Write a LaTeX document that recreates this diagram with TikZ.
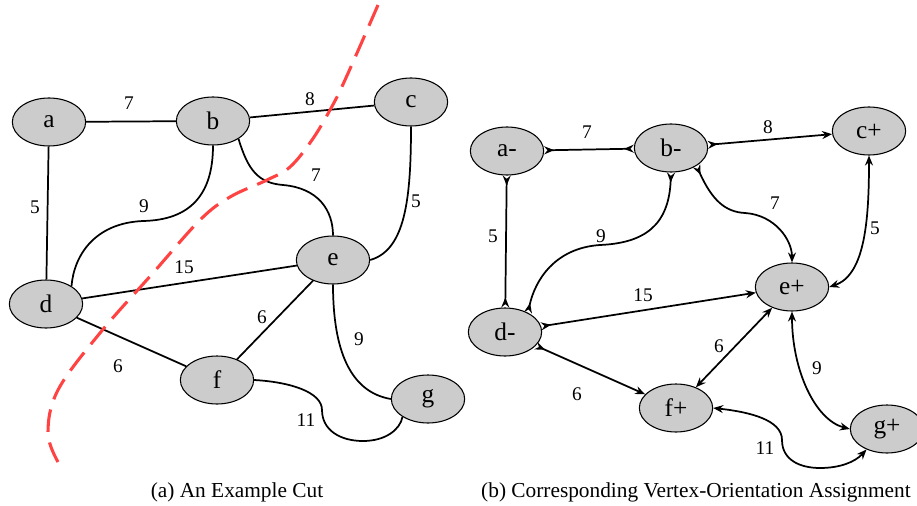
\documentclass[tikz,border=0pt]{standalone}
\usepackage{fontspec}
\setmainfont{Liberation Serif}
\usetikzlibrary{arrows.meta,shapes.geometric}
\definecolor{cutred}{RGB}{255,66,66}
\definecolor{vfill}{RGB}{204,204,204}

\begin{document}
\begin{tikzpicture}[
    x=0.75pt,y=-0.75pt,
    vertex/.style={ellipse,draw=black,fill=vfill,line width=0.8pt,
        minimum width=55pt,minimum height=36pt,inner sep=0pt,
        font=\fontsize{19}{22}\selectfont},
    link/.style={line width=1.3pt},
    weight/.style={font=\fontsize{14.5}{17}\selectfont,inner sep=1pt},
    caption/.style={font=\fontsize{16}{19}\selectfont},
    cutline/.style={cutred,line width=2.3pt,dash pattern=on 17pt off 8pt},
    >={Stealth[length=7.5pt,width=6pt,inset=2.5pt]},
    negneg/.style={link,>-<},
    negpos/.style={link,>->},
    pospos/.style={link,<->}
]
    \useasboundingbox (0,0) rectangle (917,506);

    % (a) the cut
    \foreach \name/\x/\y in {a/49/122,b/213/121,c/411/102,d/46/304,
        e/333/260,f/217/380,g/428/399} {
        \node[vertex] (\name) at (\x,\y) {\name};
    }
    \foreach \u/\v in {a/b,b/c,a/d,d/e,d/f,e/f}
        \draw[link] (\u) -- (\v);
    \draw[link] (b.south) .. controls (213,195) and (190,220) .. (143,221)
        .. controls (95,223) and (74,255) .. (d.35);
    \draw[link] (b.-35) .. controls (248,170) and (258,183) .. (283,185)
        .. controls (318,188) and (333,210) .. (e.north);
    \draw[link] (c.south) .. controls (411,200) and (405,250) .. (e.east);
    \draw[link] (e.south) .. controls (333,350) and (350,392) .. (g.west);
    \draw[link] (f.east) .. controls (290,382) and (322,392) .. (322,410)
        .. controls (322,430) and (340,441) .. (363,441)
        .. controls (385,441) and (400,430) .. (g.-145);
    \foreach \name/\x/\y/\w in {wab/129/103/7,wbc/310/99/8,wad/35/207/5,
        wbd/144/206/9,wbe/316/175/7,wce/416/201/5,wde/184/267/15,
        wdf/118/366/6,wef/262/317/6,weg/359/339/9,wfg/306/420/11}
        \node[weight] (\name) at (\x,\y) {\w};
    \draw[cutline] plot[smooth,tension=0.6] coordinates {(378,5) (345,80)
        (330,110) (312,140) (290,167) (267,180) (230,197) (200,220)
        (153,273) (100,333) (58,390) (48,433) (58,462)};
    \node[caption] (capa) at (237,492) {(a) An Example Cut};

    % (b) the orientation
    \foreach \name/\x/\y/\txt in {am/507/151/a-,bm/671/148/b-,cp/869/131/c+,
        dm/505/332/d-,ep/792/287/e+,fp/676/408/f+,gp/887/429/g+} {
        \node[vertex] (\name) at (\x,\y) {\txt};
    }
    \draw[negneg] (am) -- (bm);
    \draw[negneg] (am) -- (dm);
    \draw[negpos] (bm) -- (cp);
    \draw[negpos] (dm) -- (ep);
    \draw[negpos] (dm) -- (fp);
    \draw[pospos] (ep) -- (fp);
    \draw[negneg] (bm.south) .. controls (669,225) and (645,243) .. (600,245)
        .. controls (555,248) and (535,280) .. (dm.40);
    \draw[negpos] (bm.-35) .. controls (712,200) and (725,212) .. (745,213)
        .. controls (775,215) and (792,240) .. (ep.north);
    \draw[pospos] (cp.south) .. controls (869,220) and (865,275) .. (ep.east);
    \draw[pospos] (ep.south) .. controls (792,370) and (815,420) .. (gp.west);
    \draw[pospos] (fp.east) .. controls (750,412) and (782,420) .. (782,440)
        .. controls (782,460) and (800,468) .. (820,468)
        .. controls (840,468) and (855,462) .. (gp.-135);
    \foreach \name/\x/\y/\w in {vab/587/132/7,vbc/768/127/8,vad/493/236/5,
        vbd/601/236/9,vbe/775/203/7,vce/875/228/5,vde/643/295/15,
        vdf/577/394/6,vef/719/346/6,veg/817/368/9,vfg/765/448/11}
        \node[weight] (\name) at (\x,\y) {\w};
    \node[caption] (capb) at (696,492)
        {(b) Corresponding Vertex-Orientation Assignment};
\end{tikzpicture}
\end{document}
